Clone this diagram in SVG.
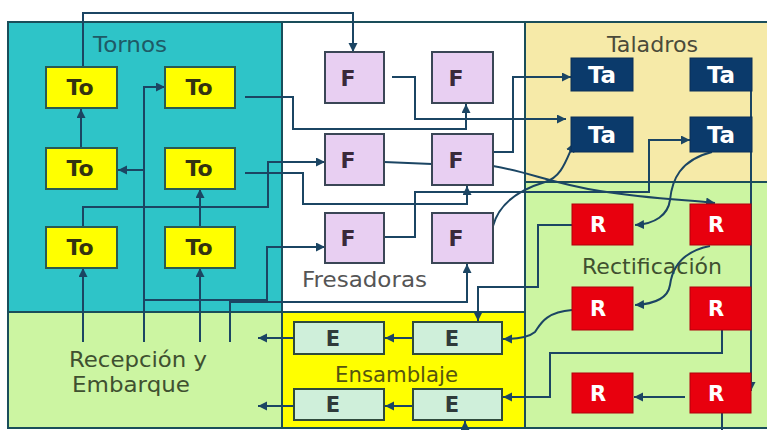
<svg xmlns="http://www.w3.org/2000/svg" width="767" height="430" viewBox="0 0 767 430">
<style>
.reg{stroke:#1A4E5A;stroke-width:2}
.lbl{font-family:"DejaVu Sans","Verdana",sans-serif;font-size:21px}
.nt{font-family:"DejaVu Sans","Verdana",sans-serif;font-weight:bold;font-size:21px;text-anchor:middle}
.to rect{fill:#FFFF00;stroke:#2A5A50;stroke-width:2}
.to text{fill:#333310;font-size:22px}
.f rect{fill:#E8CFF2;stroke:#3A4656;stroke-width:2}
.f text{fill:#3A2A3A;font-size:22px}
.ta rect{fill:#0B3A6B;stroke:#0A2F58;stroke-width:1}
.ta text{fill:#FFFFFF;font-size:23px}
.r rect{fill:#E8000E;stroke:#B0000A;stroke-width:1}
.r text{fill:#FFFFFF}
.e rect{fill:#CFEFDA;stroke:#2F4A3C;stroke-width:2}
.e text{fill:#2F3A3A}
.c path{fill:none;stroke:#1B4563;stroke-width:2}
.c path.a{marker-end:url(#arr)}
</style>
<defs>
<marker id="arr" markerUnits="userSpaceOnUse" markerWidth="10" markerHeight="10" refX="9" refY="4.5" orient="auto">
<path d="M0,0 L9,4.5 L0,9 z" fill="#1B4563"/>
</marker>
</defs>
<rect x="0" y="0" width="767" height="430" fill="#FFFFFF"/>
<g id="zone-tornos">
<rect class="reg" x="8" y="22" width="274" height="290" fill="#2EC4C8"/>
<text class="lbl" x="93" y="52" fill="#1E5A66" textLength="74" lengthAdjust="spacingAndGlyphs">Tornos</text>
</g>
<g id="zone-fresadoras">
<rect class="reg" x="282" y="22" width="243" height="290" fill="#FFFFFF"/>
<text class="lbl" x="302" y="287" fill="#555555" textLength="125" lengthAdjust="spacingAndGlyphs">Fresadoras</text>
</g>
<g id="zone-taladros">
<rect class="reg" x="525" y="22" width="244" height="160" fill="#F6EAA8"/>
<text class="lbl" x="607" y="52" fill="#4A4A3A" textLength="91" lengthAdjust="spacingAndGlyphs">Taladros</text>
</g>
<g id="zone-rectificacion">
<rect class="reg" x="525" y="182" width="244" height="246" fill="#CCF5A2"/>
<text class="lbl" x="582" y="274" fill="#3F5030" textLength="140" lengthAdjust="spacingAndGlyphs">Rectificación</text>
</g>
<g id="zone-recepcion">
<rect class="reg" x="8" y="312" width="274" height="116" fill="#CCF5A2"/>
<text class="lbl" x="69" y="367" fill="#3F5030" textLength="138" lengthAdjust="spacingAndGlyphs">Recepción y</text>
<text class="lbl" x="72" y="392" fill="#3F5030" textLength="118" lengthAdjust="spacingAndGlyphs">Embarque</text>
</g>
<g id="zone-ensamblaje">
<rect class="reg" x="282" y="312" width="243" height="116" fill="#FFFF00"/>
<text class="lbl" x="335" y="382" fill="#55550F" textLength="123" lengthAdjust="spacingAndGlyphs">Ensamblaje</text>
</g>

<g class="c" id="connectors">
<path class="a" d="M83,67 V13 H353 V52"/>
<path class="a" d="M81,148 V109"/>
<path class="a" d="M144,342 V87 H165"/>
<path class="a" d="M144,170 H118"/>
<path class="a" d="M144,300 H267 V247 H325"/>
<path class="a" d="M245,97 H293 V129 H466 V104"/>
<path class="a" d="M392,77 H415 V119 H566"/>
<path class="a" d="M493,152 H513 V77 H571"/>
<path class="a" d="M245,173 H303 V204 H467 V186"/>
<path class="a" d="M83,227 V207 H268 V162 H325"/>
<path class="a" d="M200,227 V189"/>
<path class="a" d="M83,342 V268"/>
<path class="a" d="M200,342 V268"/>
<path class="a" d="M230,342 V302 H467 V264"/>
<path d="M384,162 L432,164"/>
<path class="a" d="M493,166 C530,172 550,183 600,191 S690,200 715,203"/>
<path class="a" d="M380,237 H415 V192 H649 V140 H690"/>
<path class="a" d="M493,226 C500,200 525,188 545,182 C562,177 566,160 574,143"/>
<path class="a" d="M751,91 V391"/>
<path class="a" d="M712,152 C680,160 672,180 670,200 C668,215 655,224 635,225"/>
<path class="a" d="M710,246 C680,252 672,270 670,285 C668,298 655,304 635,305"/>
<path class="a" d="M572,225 H538 V287 H478 V321"/>
<path class="a" d="M572,310 C545,312 540,325 535,332 C528,338 515,339 503,339"/>
<path class="a" d="M722,330 V353 H550 V397 H503"/>
<path class="a" d="M685,397 H634"/>
<path class="a" d="M722,413 V436 H465 V421"/>
<path class="a" d="M413,338 H385"/>
<path class="a" d="M294,338 H258"/>
<path class="a" d="M413,406 H385"/>
<path class="a" d="M294,406 H258"/>
</g>

<g id="to1" class="to"><rect x="46" y="67" width="71" height="41"/><text class="nt" x="80" y="95">To</text></g>
<g id="to2" class="to"><rect x="165" y="67" width="70" height="41"/><text class="nt" x="199" y="95">To</text></g>
<g id="to3" class="to"><rect x="46" y="148" width="71" height="41"/><text class="nt" x="80" y="176">To</text></g>
<g id="to4" class="to"><rect x="165" y="148" width="70" height="41"/><text class="nt" x="199" y="176">To</text></g>
<g id="to5" class="to"><rect x="46" y="227" width="71" height="41"/><text class="nt" x="80" y="255">To</text></g>
<g id="to6" class="to"><rect x="165" y="227" width="70" height="41"/><text class="nt" x="199" y="255">To</text></g>

<g id="f1" class="f"><rect x="325" y="52" width="59" height="51"/><text class="nt" x="348" y="86">F</text></g>
<g id="f2" class="f"><rect x="432" y="52" width="61" height="51"/><text class="nt" x="456" y="86">F</text></g>
<g id="f3" class="f"><rect x="325" y="134" width="59" height="51"/><text class="nt" x="348" y="168">F</text></g>
<g id="f4" class="f"><rect x="432" y="134" width="61" height="51"/><text class="nt" x="456" y="168">F</text></g>
<g id="f5" class="f"><rect x="325" y="213" width="59" height="50"/><text class="nt" x="348" y="246">F</text></g>
<g id="f6" class="f"><rect x="432" y="213" width="61" height="50"/><text class="nt" x="456" y="246">F</text></g>

<g id="ta1" class="ta"><rect x="571" y="58" width="62" height="33"/><text class="nt" x="602" y="83">Ta</text></g>
<g id="ta2" class="ta"><rect x="690" y="58" width="62" height="33"/><text class="nt" x="721" y="83">Ta</text></g>
<g id="ta3" class="ta"><rect x="571" y="117" width="62" height="35"/><text class="nt" x="602" y="143">Ta</text></g>
<g id="ta4" class="ta"><rect x="690" y="117" width="62" height="35"/><text class="nt" x="721" y="143">Ta</text></g>

<g id="r1" class="r"><rect x="572" y="204" width="61" height="41"/><text class="nt" x="598" y="232">R</text></g>
<g id="r2" class="r"><rect x="690" y="204" width="61" height="41"/><text class="nt" x="716" y="232">R</text></g>
<g id="r3" class="r"><rect x="572" y="287" width="61" height="43"/><text class="nt" x="598" y="316">R</text></g>
<g id="r4" class="r"><rect x="690" y="287" width="61" height="43"/><text class="nt" x="716" y="316">R</text></g>
<g id="r5" class="r"><rect x="572" y="373" width="61" height="40"/><text class="nt" x="598" y="401">R</text></g>
<g id="r6" class="r"><rect x="690" y="373" width="61" height="40"/><text class="nt" x="716" y="401">R</text></g>

<g id="e1" class="e"><rect x="294" y="322" width="90" height="32"/><text class="nt" x="333" y="346">E</text></g>
<g id="e2" class="e"><rect x="413" y="322" width="89" height="32"/><text class="nt" x="452" y="346">E</text></g>
<g id="e3" class="e"><rect x="294" y="389" width="90" height="31"/><text class="nt" x="333" y="412">E</text></g>
<g id="e4" class="e"><rect x="413" y="389" width="89" height="31"/><text class="nt" x="452" y="412">E</text></g>
</svg>
